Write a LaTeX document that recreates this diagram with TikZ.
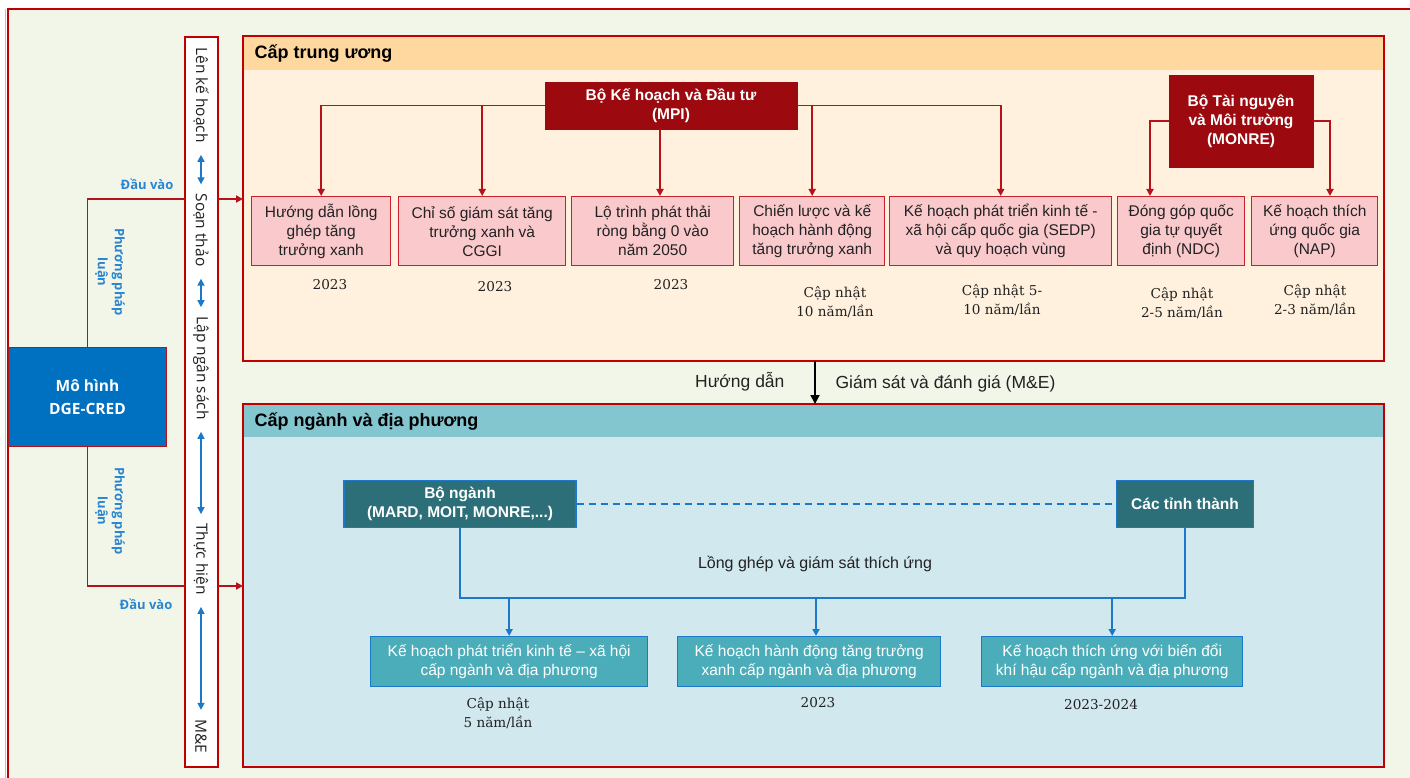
\documentclass[tikz,border=0pt]{standalone}
\usepackage{fontspec}
\setmainfont{Liberation Sans}
\newfontfamily\osans{Open Sans}
\newfontfamily\yearfont{DejaVu Serif}
\usetikzlibrary{arrows.meta}
\definecolor{bgG}{HTML}{F2F6E9}
\definecolor{redB}{HTML}{C00000}
\definecolor{lineR}{HTML}{B5121B}
\definecolor{darkR}{HTML}{9C0A10}
\definecolor{pinkF}{HTML}{F9C9CC}
\definecolor{pinkB}{HTML}{C8202C}
\definecolor{orH}{HTML}{FFD8A0}
\definecolor{orB}{HTML}{FFF1DE}
\definecolor{tealH}{HTML}{83C6D0}
\definecolor{tealB}{HTML}{D0E8EE}
\definecolor{tealD}{HTML}{2D6F79}
\definecolor{tealM}{HTML}{4BADB9}
\definecolor{blueL}{HTML}{1C78C8}
\definecolor{blueT}{HTML}{2A85D0}
\definecolor{mhB}{HTML}{0070C0}
\definecolor{txt}{HTML}{222222}
\begin{document}
\begin{tikzpicture}[x=1pt,y=-1pt,
  pinkbox/.style={draw=pinkB, line width=1.4pt, fill=pinkF, text=txt, align=center,
    font=\fontsize{15.5}{19}\selectfont, inner sep=0pt, anchor=north west, minimum height=69},
  redbox/.style={fill=darkR, draw=darkR, text=white, align=center, inner sep=0pt,
    font=\bfseries\fontsize{15.5}{19}\selectfont},
  darkteal/.style={fill=tealD, draw=blueL, line width=1.2pt, text=white, align=center, inner sep=0pt,
    font=\bfseries\fontsize{15.5}{19}\selectfont, minimum height=47},
  lightteal/.style={fill=tealM, draw=blueL, line width=1.4pt, text=white, align=center, inner sep=0pt,
    font=\fontsize{15.5}{19}\selectfont, anchor=north west, minimum height=50},
  yr/.style={font=\yearfont\fontsize{13.6}{19}\selectfont, align=center, text=txt},
  rline/.style={lineR, line width=1.8pt},
  rarrow/.style={lineR, line width=1.8pt, -{Triangle[length=7pt,width=7pt]}},
  barr/.style={blueL, line width=1.8pt, -{Triangle[length=7pt,width=7pt]}},
  bline/.style={blueL, line width=1.8pt},
  bararrow/.style={blueL, line width=1.6pt, {Triangle[length=7pt,width=7pt]}-{Triangle[length=7pt,width=7pt]},
    shorten <=12pt, shorten >=9pt},
  bartxt/.style={rotate=-90, inner sep=0pt, text=txt, font=\osans\fontsize{15.5}{18}\selectfont},
  bluelab/.style={text=blueT, font=\osans\bfseries\fontsize{13}{17}\selectfont, align=center},
  paneltitle/.style={anchor=west, text=black, font=\bfseries\fontsize{18}{20}\selectfont},
  plain/.style={text=txt, font=\fontsize{17.5}{20}\selectfont}
]
\useasboundingbox (0,0) rectangle (1410,778);
% background and outer frame
\fill[white] (0,0) rectangle (1410,778);
\fill[bgG] (8,9) rectangle (1410,778);
\draw[gray!50, line width=0.8pt] (5,9) -- (5,778);
\draw[redB, line width=1.5pt] (8,778) -- (8,9) -- (1410,9);

% panels
\node[fill=orB, inner sep=0, outer sep=0, minimum width=1141, minimum height=325, anchor=north west] (ctw) at (243,36) {};
\fill[orH] (ctw.north west) rectangle ([yshift=-34pt]ctw.north east);
\draw[redB, line width=1.5pt] (ctw.north west) rectangle (ctw.south east);
\node[paneltitle] (ctwT) at (251,53) {Cấp trung ương};

\node[fill=tealB, inner sep=0, outer sep=0, minimum width=1141, minimum height=363, anchor=north west] (dp) at (243,404) {};
\fill[tealH] (dp.north west) rectangle ([yshift=-33pt]dp.north east);
\draw[redB, line width=1.5pt] (dp.north west) rectangle (dp.south east);
\node[paneltitle] (dpT) at (251,421) {Cấp ngành và địa phương};

% vertical process bar
\node[draw=redB, fill=white, line width=1.5pt, inner sep=0, outer sep=0, minimum width=33, minimum height=730, anchor=north west] (bar) at (185,37) {};
\node[bartxt] (t1) at (201,95) {Lên kế hoạch};
\node[bartxt] (t2) at (201,230) {Soạn thảo};
\node[bartxt] (t3) at (201,368) {Lập ngân sách};
\node[bartxt] (t4) at (201,559) {Thực hiện};
\node[bartxt] (t5) at (201,736) {M\&E};
\draw[bararrow] (t1.east) -- (t2.west);
\draw[bararrow] (t2.east) -- (t3.west);
\draw[bararrow] (t3.east) -- (t4.west);
\draw[bararrow] (t4.east) -- (t5.west);

% model box
\node[fill=mhB, draw=lineR, line width=1pt, minimum width=158, minimum height=99, anchor=north west,
  inner sep=0, text=white, font=\osans\bfseries\fontsize{15.5}{23}\selectfont, align=center] (mh) at (8,347) {Mô hình\\DGE-CRED};

\coordinate (inT) at (0,199);
\coordinate (inB) at (0,586);
\draw[rline] (mh.north) |- (bar.west |- inT);
\draw[rarrow] (bar.east |- inT) -- (ctw.west |- inT);
\draw[rline] (mh.south) |- (bar.west |- inB);
\draw[rarrow] (bar.east |- inB) -- (dp.west |- inB);
\node[bluelab] (dv1) at (147,184) {Đầu vào};
\node[bluelab, rotate=-90] (pp1) at (110,272) {Phương pháp\\luận};
\node[bluelab, rotate=-90] (pp2) at (110,511) {Phương pháp\\luận};
\node[bluelab] (dv2) at (146,604) {Đầu vào};

% central level
\node[redbox, minimum width=252, minimum height=47] (mpi) at (671,105.5) {Bộ Kế hoạch và Đầu tư\\(MPI)};
\node[redbox, minimum width=144, minimum height=92] (monre) at (1241,121) {Bộ Tài nguyên\\và Môi trường\\(MONRE)};

\node[pinkbox, minimum width=139] (b1) at (251,196) {Hướng dẫn lồng\\ghép tăng\\trưởng xanh};
\node[pinkbox, minimum width=167] (b2) at (398,196) {Chỉ số giám sát tăng\\trưởng xanh và\\CGGI};
\node[pinkbox, minimum width=162] (b3) at (571,196) {Lộ trình phát thải\\ròng bằng 0 vào\\năm 2050};
\node[pinkbox, minimum width=145] (b4) at (739,196) {Chiến lược và kế\\hoạch hành động\\tăng trưởng xanh};
\node[pinkbox, minimum width=222] (b5) at (889,196) {Kế hoạch phát triển kinh tế -\\xã hội cấp quốc gia (SEDP)\\và quy hoạch vùng};
\node[pinkbox, minimum width=127] (b6) at (1117,196) {Đóng góp quốc\\gia tự quyết\\định (NDC)};
\node[pinkbox, minimum width=126] (b7) at (1251,196) {Kế hoạch thích\\ứng quốc gia\\(NAP)};

\coordinate (d3) at (660,0);
\coordinate (d6) at (1150,0);
\coordinate (d7) at (1330,0);
\draw[rarrow] (mpi.west) -| (b1.north);
\draw[rarrow] (mpi.east) -| (b5.north);
\draw[rarrow] (b2.north |- mpi.west) -- (b2.north);
\draw[rarrow] (b4.north |- mpi.east) -- (b4.north);
\draw[rarrow] (mpi.south -| d3) -- (b3.north -| d3);
\draw[rarrow] (monre.west) -| (b6.north -| d6);
\draw[rarrow] (monre.east) -| (b7.north -| d7);

\node[yr] (y1) at (330,285) {2023};
\node[yr] (y2) at (495,287) {2023};
\node[yr] (y3) at (671,285) {2023};
\node[yr] (y4) at (835,302) {Cập nhật\\10 năm/lần};
\node[yr] (y5) at (1002,300) {Cập nhật 5-\\10 năm/lần};
\node[yr] (y6) at (1182,303) {Cập nhật\\2-5 năm/lần};
\node[yr] (y7) at (1315,300) {Cập nhật\\2-3 năm/lần};

% between panels
\coordinate (mid) at (815,0);
\draw[black, line width=1.8pt, -{Triangle[length=9pt,width=9pt]}] (ctw.south -| mid) -- (dp.north -| mid);
\node[plain, anchor=east] (hd) at (788,382) {Hướng dẫn};
\node[plain, anchor=west] (gs) at (832,384) {Giám sát và đánh giá (M\&E)};

% sectoral and local level
\node[darkteal, minimum width=232] (bn) at (460,504) {Bộ ngành\\(MARD, MOIT, MONRE,...)};
\node[darkteal, minimum width=137] (ct) at (1185,504) {Các tỉnh thành};
\draw[blueL, line width=1.6pt, dash pattern=on 7pt off 5pt] (bn.east) -- (ct.west);
\node[text=txt, font=\fontsize{16}{19}\selectfont] (lg) at (815,564) {Lồng ghép và giám sát thích ứng};

\node[lightteal, minimum width=277] (l1) at (370,636) {Kế hoạch phát triển kinh tế – xã hội\\cấp ngành và địa phương};
\node[lightteal, minimum width=263] (l2) at (677,636) {Kế hoạch hành động tăng trưởng\\xanh cấp ngành và địa phương};
\node[lightteal, minimum width=261] (l3) at (981,636) {Kế hoạch thích ứng với biến đổi\\khí hậu cấp ngành và địa phương};

\coordinate (bus) at (0,598);
\coordinate (d8) at (816,0);
\draw[bline] (bn.south) |- (ct.south |- bus) -- (ct.south);
\draw[barr] (l1.north |- bus) -- (l1.north);
\draw[barr] (d8 |- bus) -- (l2.north -| d8);
\draw[barr] (l3.north |- bus) -- (l3.north);

\node[yr] (y8) at (498,713) {Cập nhật\\5 năm/lần};
\node[yr] (y9) at (818,703) {2023};
\node[yr] (y10) at (1101,705) {2023-2024};
\end{tikzpicture}
\end{document}
